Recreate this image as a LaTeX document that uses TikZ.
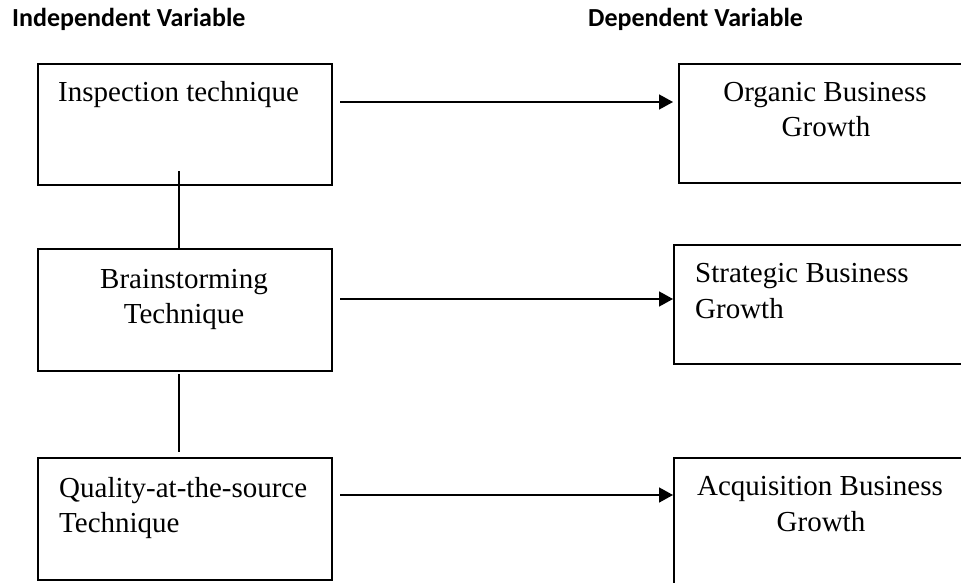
\documentclass[tikz,border=0pt]{standalone}
\usepackage{fontspec}
\setmainfont{Liberation Serif}
\newfontfamily\hdrfont{Carlito}
\usetikzlibrary{arrows.meta}
\tikzset{
  box/.style={draw, line width=1.6pt, inner sep=0pt, anchor=north west, rectangle},
  txt/.style={inner sep=0pt, font=\fontsize{29}{35}\selectfont},
  hdr/.style={inner sep=0pt, anchor=base west, font=\hdrfont\bfseries\fontsize{26}{31}\selectfont},
  link/.style={line width=1.6pt},
  arr/.style={line width=1.6pt, -{Triangle[length=14pt,width=15pt]}}
}
\begin{document}
\begin{tikzpicture}[x=1pt,y=-1pt]
\useasboundingbox (0,0) rectangle (961,583);
% headers
\node[hdr] (hI) at (12,27) {Independent Variable};
\node[hdr] (hD) at (588,27) {Dependent Variable};
% left boxes
\node[box, minimum width=294pt, minimum height=121pt] (L1) at (37,63) {};
\node[box, minimum width=294pt, minimum height=122pt] (L2) at (37,248) {};
\node[box, minimum width=294pt, minimum height=122pt] (L3) at (37,457) {};
% right boxes (cut by the right edge)
\node[box, minimum width=300pt, minimum height=119pt] (R1) at (678,63) {};
\node[box, minimum width=310pt, minimum height=119pt] (R2) at (673,244) {};
\node[box, minimum width=310pt, minimum height=140pt] (R3) at (673,457) {};
% texts
\node[txt, anchor=base west] (t1) at (58,102) {Inspection technique};
\node[txt, anchor=base] (t2a) at (184,288) {Brainstorming};
\node[txt, anchor=base] (t2b) at (184,323) {Technique};
\node[txt, anchor=base west] (t3a) at (59,497) {Quality-at-the-source};
\node[txt, anchor=base west] (t3b) at (59,532) {Technique};
\node[txt, anchor=base] (r1a) at (825,102) {Organic Business};
\node[txt, anchor=base] (r1b) at (826,137) {Growth};
\node[txt, anchor=base west] (r2a) at (695,282) {Strategic Business};
\node[txt, anchor=base west] (r2b) at (695,318) {Growth};
\node[txt, anchor=base] (r3a) at (820,495) {Acquisition Business};
\node[txt, anchor=base] (r3b) at (821,531) {Growth};
% vertical links
\coordinate (v1) at (179,171);
\coordinate (v2a) at (179,374);
\coordinate (v2b) at (179,452);
\draw[link] (v1) -- (v1 |- L2.north);
\draw[link] (v2a) -- (v2b);
% arrows
\coordinate (a1) at (340,102);
\coordinate (a2) at (340,299);
\coordinate (a3) at (340,495);
\coordinate (e1) at (673,102);
\draw[arr] (a1) -- (e1);
\draw[arr] (a2) -- (a2 -| R2.west);
\draw[arr] (a3) -- (a3 -| R3.west);
\end{tikzpicture}
\end{document}
